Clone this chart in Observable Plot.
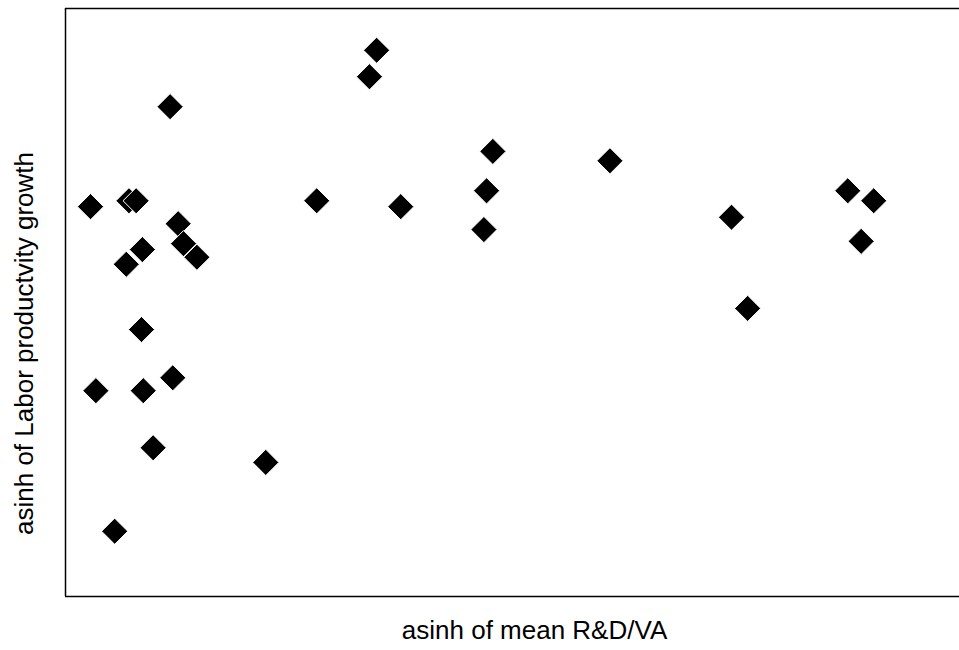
<!DOCTYPE html>
<html>
<head>
<meta charset="utf-8">
<script src="https://cdn.jsdelivr.net/npm/d3@7"></script>
<script src="https://cdn.jsdelivr.net/npm/@observablehq/plot@0.6"></script>
<style>
  html, body { margin: 0; padding: 0; background: #fff; overflow: hidden; }
  #chart svg { display: block; }
</style>
</head>
<body>
<div id="chart"></div>
<script>
// asinh of mean R&D/VA (arbitrary axis units)
const rdva = [0.28, 0.34, 0.55, 0.68, 0.71, 0.79, 0.86, 0.85, 0.87, 0.98,
              1.17, 1.20, 1.26, 1.32, 1.47, 2.24, 2.81, 3.40, 3.48, 3.75,
              4.68, 4.71, 4.78, 6.09, 7.45, 7.63, 8.75, 8.90, 9.04];
// asinh of Labor productivity growth
const lpg = [6.63, 3.50, 1.11, 5.65, 6.73, 6.73, 5.90, 4.54, 3.50, 2.53,
             8.33, 3.72, 6.34, 6.00, 5.77, 2.28, 6.73, 8.84, 9.29, 6.63,
             6.24, 6.90, 7.57, 7.41, 6.45, 4.90, 6.90, 6.04, 6.73];
const xDomain = [0, 10];
const yDomain = [0, 10];
const xLabel = "asinh of mean R&D/VA";
const yLabel = "asinh of Labor productvity growth";

const data = rdva.map((x, i) => ({x, y: lpg[i]}));

const chart = Plot.plot({
  width: 959,
  height: 650,
  marginLeft: 65,
  marginRight: 0,
  marginTop: 8,
  marginBottom: 54,
  style: {fontFamily: "Liberation Sans, Arial, sans-serif", background: "white"},
  x: {domain: xDomain, axis: null},
  y: {domain: yDomain, axis: null},
  marks: [
    Plot.ruleY([yDomain[0], yDomain[1]], {stroke: "black", strokeWidth: 1.5}),
    Plot.ruleX([xDomain[0]], {stroke: "black", strokeWidth: 1.5}),
    Plot.dot(data, {x: "x", y: "y", symbol: "diamond2", r: 11.8, fill: "black", stroke: "white", strokeWidth: 1}),
    Plot.text([xLabel], {frameAnchor: "bottom", textAnchor: "middle", dx: 22, dy: 42, fontSize: 26, fill: "black"}),
    Plot.text([yLabel], {frameAnchor: "left", textAnchor: "middle", dx: -41, dy: 41, rotate: -90, fontSize: 26, fill: "black"})
  ]
});
document.getElementById("chart").appendChild(chart);
</script>
</body>
</html>
